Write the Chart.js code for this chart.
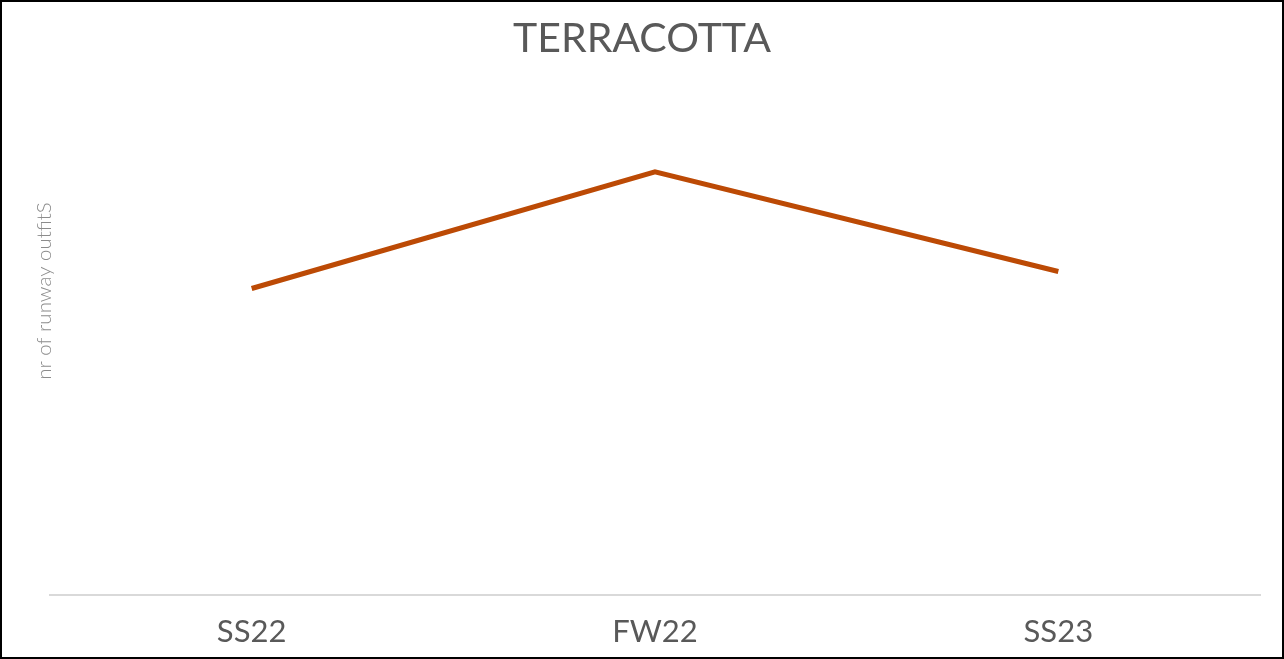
<!DOCTYPE html>
<html>
<head>
<meta charset="utf-8">
<script src="https://cdn.jsdelivr.net/npm/chart.js@4"></script>
<style>
  html, body { margin: 0; padding: 0; background: #fff; }
  #wrap { width: 1284px; height: 659px; box-sizing: border-box; border: 2px solid #000; }
  #wrap canvas { display: block; }
</style>
</head>
<body>
<div id="wrap"><canvas id="chart" width="1280" height="655"></canvas></div>
<script>
const seasons = ["SS22", "FW22", "SS23"]
const outfits = [36, 49.7, 38]
const chartTitle = "TERRACOTTA"
const yTitle = "nr of runway outfitS"

const fontFamily = "Lato, 'Open Sans', sans-serif"

// y axis title sits higher than the middle of the plot, so it is drawn by hand
const yTitlePlugin = {
  id: "yTitle",
  afterDraw: (chart) => {
    const c = chart.ctx
    c.save()
    c.translate(42, 289)
    c.rotate(-Math.PI / 2)
    c.fillStyle = "#8c8c8c"
    c.font = "300 20.5px " + fontFamily
    c.textAlign = "center"
    c.textBaseline = "middle"
    c.fillText(yTitle, 0, 0)
    c.restore()
  }
}

const ctx = document.getElementById("chart").getContext("2d")

new Chart(ctx, {
  type: "line",
  data: {
    labels: seasons,
    datasets: [{
      data: outfits,
      borderColor: "#bc4a05",
      borderWidth: 5,
      pointRadius: 0,
      tension: 0,
      fill: false
    }]
  },
  options: {
    responsive: false,
    animation: false,
    layout: { padding: { left: 22, right: 22, top: 0, bottom: 0 } },
    plugins: {
      legend: { display: false },
      tooltip: { enabled: false },
      title: {
        display: true,
        text: chartTitle,
        color: "#595959",
        font: { family: fontFamily, size: 41, weight: "normal" },
        padding: { top: 12, bottom: 21 }
      }
    },
    scales: {
      x: {
        offset: true,
        grid: { display: false, drawTicks: false },
        border: { display: true, color: "#d9d9d9", width: 2 },
        ticks: {
          color: "#595959",
          font: { family: fontFamily, size: 31 },
          padding: 18
        },
        afterFit: (scale) => { scale.height = 62 }
      },
      y: {
        min: 0,
        max: 60,
        grid: { display: false },
        border: { display: false },
        ticks: { display: false },
        afterFit: (scale) => { scale.width = 26 }
      }
    }
  },
  plugins: [yTitlePlugin]
})
</script>
</body>
</html>
